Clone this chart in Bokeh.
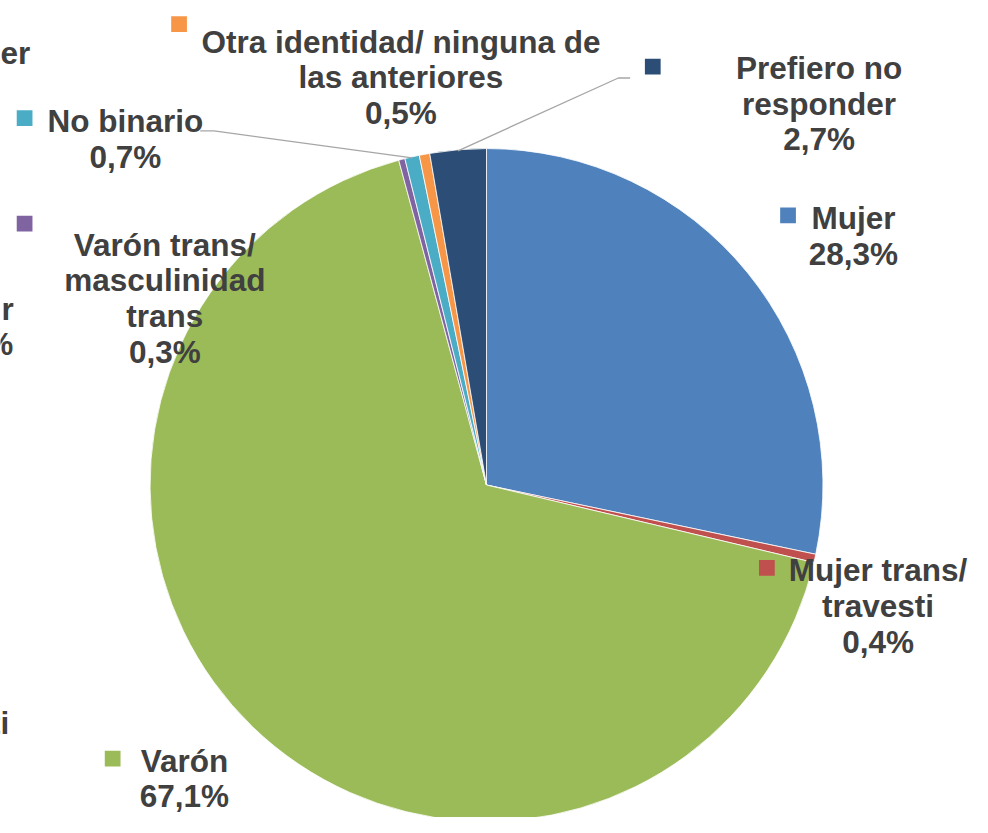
import math
from bokeh.plotting import figure
from bokeh.models import Range1d, ColumnDataSource
from bokeh.core.properties import value
from bokeh.embed import file_html
from bokeh.resources import INLINE

# ---- data ----
categories = ["Mujer", "Mujer trans/ travesti", "Varón", "Varón trans/ masculinidad trans",
              "No binario", "Otra identidad/ ninguna de las anteriores", "Prefiero no responder"]
percentages = [28.3, 0.4, 67.1, 0.3, 0.7, 0.5, 2.7]
label_lines = [["Mujer"], ["Mujer trans/", "travesti"], ["Varón"],
               ["Varón trans/", "masculinidad", "trans"], ["No binario"],
               ["Otra identidad/ ninguna de", "las anteriores"], ["Prefiero no", "responder"]]
colors = ["#4F81BD", "#C0504D", "#9BBB59", "#8064A2", "#4BACC6", "#F79646", "#2C4D75"]

# ---- layout: reference pixel space 988x833 mapped onto the figure ----
W, H = 972, 817
RW, RH = 988, 833
S = W / RW
def sy(y):  # reference y (down) -> data y (up)
    return RH - y

CX, CY, R = 494, 494, 342
TEXT_SHIFT = -10  # compensate renderer baseline placement
label_pos = [(867, 232), (892, 591), (187, 785), (167, 259), (127, 133), (407, 52), (832, 79)]
marker_pos = [(800.5, 219), (779, 578.5), (114, 773), (24.5, 227.5), (24.5, 120), (181.5, 24), (663, 67.5)]
LINE_H = 36.3
FONT = value("Liberation Sans")
TXT = "#404040"
FS = "%.1fpx" % (32 * S)

p = figure(width=W, height=H, output_backend="svg", toolbar_location=None,
           x_range=Range1d(0, RW), y_range=Range1d(0, RH),
           min_border=0, outline_line_color=None, background_fill_color="white",
           border_fill_color="white")
p.axis.visible = False
p.grid.visible = False

# wedges (start at 12 o'clock, clockwise)
total = sum(percentages)
starts, ends, mids = [], [], []
cum = 0.0
for v in percentages:
    a0 = math.pi / 2 - 2 * math.pi * cum / total
    cum += v
    a1 = math.pi / 2 - 2 * math.pi * cum / total
    starts.append(a0); ends.append(a1); mids.append((a0 + a1) / 2)

src = ColumnDataSource(dict(start=starts, end=ends, color=colors))
p.wedge(x=CX, y=sy(CY), radius=R, start_angle="start", end_angle="end", direction="clock",
        fill_color="color", line_color="white", line_width=0.8, source=src)

def edge(i):
    return CX + R * math.cos(mids[i]), sy(CY) + R * math.sin(mids[i])

# leader lines
lx, ly = edge(4)
p.line([203, 217, lx], [sy(133), sy(133), ly], line_color="#A6A6A6", line_width=1.3)
lx, ly = edge(6)
p.line([lx, 628, 640], [ly, sy(79), sy(79)], line_color="#A6A6A6", line_width=1.3)

# labels
tx, ty, tt = [], [], []
for i, lines in enumerate(label_lines):
    pct = ("%.1f" % percentages[i]).replace(".", ",") + "%"
    allines = lines + [pct]
    cx, by = label_pos[i]
    for k, s in enumerate(allines):
        tx.append(cx); ty.append(sy(by + TEXT_SHIFT + k * LINE_H)); tt.append(s)
p.text(x=tx, y=ty, text=tt, text_align="center", text_baseline="alphabetic",
       text_font=FONT, text_font_style="bold", text_font_size=FS, text_color=TXT)

# legend-key squares
p.scatter(x=[m[0] for m in marker_pos], y=[sy(m[1]) for m in marker_pos], marker="square",
          size=16 * S, fill_color=colors, line_color=None)

# fragments of neighbouring labels cut off at the left edge
p.text(x=[0, 1], y=[sy(64 + TEXT_SHIFT), sy(325 + TEXT_SHIFT)], text=["er", "r"], text_align="left",
       text_baseline="alphabetic", text_font=FONT, text_font_style="bold",
       text_font_size=FS, text_color=TXT)
p.text(x=[13, 9], y=[sy(360 + TEXT_SHIFT), sy(747 + TEXT_SHIFT)], text=["%", "ti"], text_align="right",
       text_baseline="alphabetic", text_font=FONT, text_font_style="bold",
       text_font_size=FS, text_color=TXT)

open("out.html", "w").write(file_html(p, INLINE))
